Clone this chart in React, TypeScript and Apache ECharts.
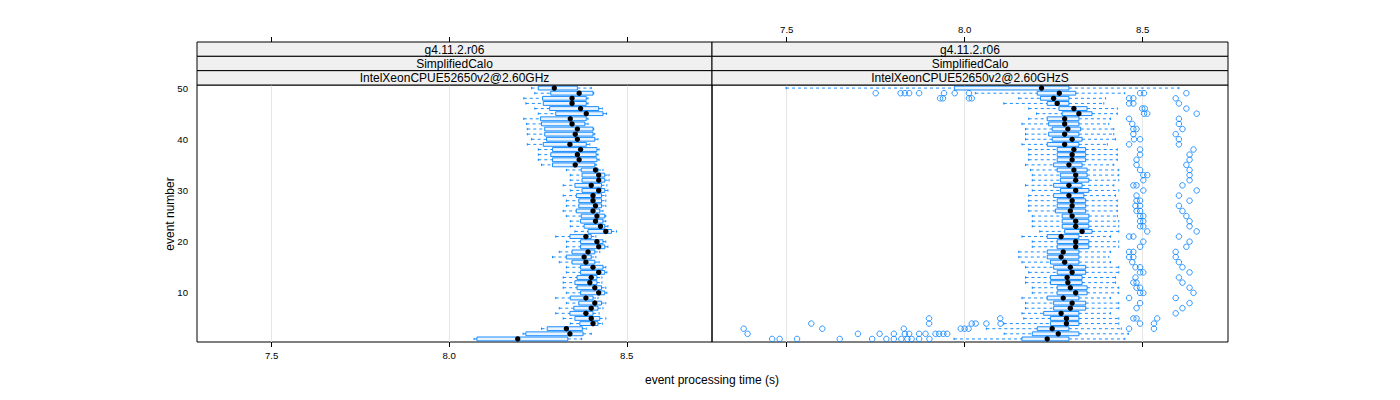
import React, { useEffect, useRef } from "react";
import * as echarts from "echarts";

// ---------- data ----------
const xTicks = [7.5, 8.0, 8.5];
const xTickLabels = ["7.5", "8.0", "8.5"];
const yTicks = [10, 20, 30, 40, 50];
const yTickLabels = ["10", "20", "30", "40", "50"];
const stripRows = ["g4.11.2.r06", "SimplifiedCalo"];
const panelNames = ["IntelXeonCPUE52650v2@2.60GHz", "IntelXeonCPUE52650v2@2.60GHzS"];
const xTitle = "event processing time (s)";
const yTitle = "event number";

// left panel, event 1 .. 50
const leftLow = [8.070, 8.208, 8.260, 8.341, 8.321, 8.300, 8.310, 8.330, 8.300, 8.330,
  8.321, 8.321, 8.321, 8.330, 8.330, 8.310, 8.291, 8.310, 8.330, 8.330,
  8.300, 8.354, 8.341, 8.341, 8.330, 8.321, 8.330, 8.330, 8.321, 8.341,
  8.321, 8.341, 8.341, 8.330, 8.260, 8.251, 8.251, 8.251, 8.220, 8.232,
  8.220, 8.220, 8.218, 8.210, 8.251, 8.241, 8.216, 8.210, 8.241, 8.232];
const leftQ1 = [8.078, 8.216, 8.276, 8.368, 8.354, 8.340, 8.351, 8.365, 8.341, 8.370,
  8.360, 8.354, 8.360, 8.370, 8.370, 8.346, 8.330, 8.346, 8.370, 8.370,
  8.340, 8.391, 8.380, 8.370, 8.372, 8.358, 8.365, 8.365, 8.358, 8.374,
  8.354, 8.374, 8.374, 8.372, 8.291, 8.291, 8.286, 8.291, 8.265, 8.274,
  8.269, 8.269, 8.260, 8.257, 8.300, 8.283, 8.265, 8.263, 8.286, 8.251];
const leftMed = [8.193, 8.340, 8.330, 8.405, 8.400, 8.385, 8.400, 8.410, 8.385, 8.421,
  8.410, 8.396, 8.400, 8.421, 8.405, 8.385, 8.380, 8.391, 8.421, 8.416,
  8.385, 8.441, 8.426, 8.412, 8.416, 8.405, 8.412, 8.405, 8.405, 8.421,
  8.400, 8.421, 8.421, 8.412, 8.355, 8.366, 8.361, 8.370, 8.340, 8.361,
  8.355, 8.361, 8.346, 8.341, 8.386, 8.370, 8.346, 8.346, 8.366, 8.296];
const leftQ3 = [8.334, 8.377, 8.375, 8.419, 8.424, 8.405, 8.419, 8.429, 8.405, 8.438,
  8.429, 8.416, 8.416, 8.438, 8.433, 8.410, 8.400, 8.410, 8.438, 8.433,
  8.400, 8.457, 8.438, 8.433, 8.438, 8.424, 8.429, 8.429, 8.429, 8.438,
  8.429, 8.438, 8.438, 8.419, 8.410, 8.416, 8.414, 8.416, 8.386, 8.410,
  8.405, 8.405, 8.382, 8.386, 8.433, 8.421, 8.386, 8.386, 8.405, 8.361];
const leftHigh = [8.373, 8.400, 8.386, 8.431, 8.441, 8.422, 8.433, 8.441, 8.419, 8.444,
  8.441, 8.430, 8.430, 8.444, 8.441, 8.422, 8.413, 8.424, 8.447, 8.441,
  8.413, 8.471, 8.447, 8.441, 8.441, 8.433, 8.441, 8.441, 8.441, 8.447,
  8.444, 8.450, 8.450, 8.433, 8.414, 8.422, 8.419, 8.422, 8.396, 8.419,
  8.410, 8.407, 8.391, 8.391, 8.443, 8.431, 8.391, 8.391, 8.407, 8.400];

// right panel, event 1 .. 50
const rightLow = [7.970, 8.111, 8.061, 8.110, 8.166, 8.161, 8.171, 8.171, 8.161, 8.190,
  8.190, 8.171, 8.171, 8.180, 8.171, 8.161, 8.152, 8.152, 8.190, 8.190,
  8.161, 8.211, 8.190, 8.190, 8.190, 8.180, 8.180, 8.180, 8.180, 8.190,
  8.171, 8.190, 8.190, 8.185, 8.171, 8.180, 8.180, 8.180, 8.161, 8.171,
  8.171, 8.171, 8.161, 8.180, 8.202, 8.180, 8.110, 8.152, 8.030, 7.498];
const rightQ1 = [8.161, 8.190, 8.204, 8.241, 8.241, 8.222, 8.250, 8.250, 8.232, 8.260,
  8.260, 8.241, 8.241, 8.260, 8.250, 8.241, 8.232, 8.232, 8.260, 8.260,
  8.232, 8.281, 8.274, 8.274, 8.274, 8.255, 8.260, 8.260, 8.250, 8.269,
  8.250, 8.269, 8.269, 8.260, 8.250, 8.260, 8.260, 8.260, 8.232, 8.246,
  8.236, 8.246, 8.236, 8.232, 8.274, 8.265, 8.232, 8.213, 8.204, 7.971];
const rightMed = [8.232, 8.263, 8.246, 8.286, 8.286, 8.271, 8.297, 8.302, 8.277, 8.312,
  8.297, 8.290, 8.288, 8.302, 8.297, 8.281, 8.271, 8.277, 8.312, 8.312,
  8.271, 8.330, 8.312, 8.312, 8.302, 8.297, 8.302, 8.302, 8.293, 8.312,
  8.293, 8.312, 8.312, 8.307, 8.293, 8.302, 8.302, 8.307, 8.281, 8.302,
  8.281, 8.290, 8.281, 8.281, 8.321, 8.307, 8.260, 8.250, 8.266, 8.216];
const rightQ3 = [8.293, 8.321, 8.293, 8.321, 8.321, 8.321, 8.340, 8.340, 8.321, 8.344,
  8.344, 8.330, 8.330, 8.340, 8.340, 8.321, 8.321, 8.321, 8.349, 8.349,
  8.321, 8.358, 8.349, 8.349, 8.349, 8.340, 8.340, 8.340, 8.335, 8.349,
  8.330, 8.349, 8.344, 8.344, 8.330, 8.340, 8.340, 8.340, 8.321, 8.330,
  8.321, 8.326, 8.321, 8.321, 8.358, 8.344, 8.293, 8.293, 8.312, 8.293];
const rightHigh = [8.450, 8.460, 8.440, 8.433, 8.433, 8.410, 8.433, 8.433, 8.410, 8.433,
  8.433, 8.424, 8.424, 8.433, 8.433, 8.410, 8.405, 8.410, 8.433, 8.433,
  8.410, 8.433, 8.433, 8.433, 8.429, 8.429, 8.429, 8.429, 8.424, 8.433,
  8.419, 8.433, 8.433, 8.433, 8.419, 8.429, 8.429, 8.429, 8.401, 8.424,
  8.419, 8.419, 8.405, 8.410, 8.429, 8.429, 8.391, 8.396, 8.450, 8.602];

// right panel outliers: [event, times]
const rightOutliers: [number, number[]][] = [
  [1, [7.459, 7.480, 7.529, 7.649, 7.740, 7.780, 7.801, 7.822, 7.839, 7.851, 7.872, 7.901]],
  [2, [7.390, 7.700, 7.761, 7.801, 7.832, 7.844, 7.872, 7.890, 7.918, 7.928, 7.940, 7.951]],
  [3, [7.379, 7.600, 7.829, 7.989, 8.000, 8.011, 8.462, 8.532]],
  [4, [7.569, 7.900, 8.020, 8.031, 8.061, 8.101, 8.493, 8.532]],
  [5, [7.900, 8.100, 8.474, 8.483, 8.541]],
  [6, [8.593]],
  [7, [8.483, 8.612]],
  [8, [8.493, 8.632]],
  [9, [8.462, 8.593]],
  [10, [8.493, 8.502, 8.643]],
  [11, [8.483, 8.493, 8.632]],
  [12, [8.474, 8.483, 8.612]],
  [13, [8.480, 8.602]],
  [14, [8.493, 8.502, 8.632]],
  [15, [8.480, 8.493, 8.612]],
  [16, [8.471, 8.602]],
  [17, [8.462, 8.474, 8.593]],
  [18, [8.462, 8.474, 8.593]],
  [19, [8.493, 8.623]],
  [20, [8.502, 8.632]],
  [21, [8.462, 8.474, 8.602]],
  [22, [8.513, 8.652]],
  [23, [8.493, 8.502, 8.632]],
  [24, [8.493, 8.502, 8.632]],
  [25, [8.493, 8.502, 8.623]],
  [26, [8.483, 8.493, 8.612]],
  [27, [8.480, 8.493, 8.602]],
  [28, [8.483, 8.493, 8.632]],
  [29, [8.483, 8.602]],
  [30, [8.502, 8.652]],
  [31, [8.474, 8.483, 8.612]],
  [32, [8.502, 8.632]],
  [33, [8.502, 8.513, 8.632]],
  [34, [8.493, 8.632]],
  [35, [8.483, 8.623]],
  [36, [8.483, 8.632]],
  [37, [8.493, 8.632]],
  [38, [8.493, 8.643]],
  [39, [8.462, 8.602]],
  [40, [8.476, 8.493, 8.602]],
  [41, [8.474, 8.593]],
  [42, [8.474, 8.483, 8.612]],
  [43, [8.471, 8.602]],
  [44, [8.462, 8.602]],
  [45, [8.504, 8.513, 8.652]],
  [46, [8.499, 8.506, 8.623]],
  [47, [8.462, 8.474, 8.602]],
  [48, [7.931, 7.939, 8.012, 8.020, 8.462, 8.474, 8.593]],
  [49, [7.750, 7.820, 7.832, 7.844, 7.872, 7.942, 7.972, 8.012, 8.493, 8.504, 8.623]],
];

// ---------- layout / style ----------
const FONT = "'Liberation Sans', Arial, Helvetica, sans-serif";
const BLUE = "#0080ff";
const X_MIN = 7.29;
const X_MAX = 8.74;
const Y_MIN = 0.4;
const Y_MAX = 50.6;
const PANELS = [
  { left: 197, width: 515 },
  { left: 712, width: 516 },
];
const GRID_TOP = 85;
const GRID_H = 257;
const STRIP_TOP = 42;
const STRIP_H = (GRID_TOP - STRIP_TOP) / 3;

export default function App() {
  const ref = useRef<HTMLDivElement>(null);

  useEffect(() => {
    if (!ref.current) return;
    const chart = echarts.init(ref.current, null, { renderer: "svg" });

    const rows = (lo: number[], q1: number[], md: number[], q3: number[], hi: number[]) =>
      lo.map((v, i) => [i + 1, v, q1[i], md[i], q3[i], hi[i]]);

    const renderBox = (_params: any, api: any) => {
      const ev = api.value(0);
      const pLo = api.coord([api.value(1), ev]);
      const pQ1 = api.coord([api.value(2), ev]);
      const pMd = api.coord([api.value(3), ev]);
      const pQ3 = api.coord([api.value(4), ev]);
      const pHi = api.coord([api.value(5), ev]);
      const h = api.size([0, 0.75])[1];
      const y = pMd[1];
      const dash = { stroke: BLUE, lineWidth: 0.9, lineDash: [3, 3] };
      const solid = { stroke: BLUE, lineWidth: 0.9 };
      return {
        type: "group",
        children: [
          { type: "line", shape: { x1: pLo[0], y1: y, x2: pQ1[0], y2: y }, style: dash },
          { type: "line", shape: { x1: pQ3[0], y1: y, x2: pHi[0], y2: y }, style: dash },
          { type: "line", shape: { x1: pLo[0], y1: y - h * 0.3, x2: pLo[0], y2: y + h * 0.3 }, style: solid },
          { type: "line", shape: { x1: pHi[0], y1: y - h * 0.3, x2: pHi[0], y2: y + h * 0.3 }, style: solid },
          {
            type: "rect",
            shape: { x: pQ1[0], y: y - h / 2, width: pQ3[0] - pQ1[0], height: h },
            style: { fill: "#eaf4ff", stroke: BLUE, lineWidth: 0.9 },
          },
          { type: "circle", shape: { cx: pMd[0], cy: y, r: 2.7 }, style: { fill: "#000" } },
        ],
      };
    };

    const outlierData: number[][] = [];
    rightOutliers.forEach(([ev, times]) => times.forEach((t) => outlierData.push([t, ev])));

    const xAxisDef = (gridIndex: number, position: string, showLabel: boolean, offset: number) => ({
      gridIndex,
      type: "value",
      min: X_MIN,
      max: X_MAX,
      position,
      offset,
      axisLine: { show: false },
      axisTick: { show: true, inside: false, length: 5, lineStyle: { color: "#000", width: 1 }, customValues: xTicks },
      axisLabel: {
        show: showLabel,
        customValues: xTicks,
        formatter: (v: number) => xTickLabels[xTicks.findIndex((t) => Math.abs(t - v) < 1e-6)] ?? "",
        fontSize: 9.6,
        fontFamily: FONT,
        color: "#000",
        margin: 8,
      },
      splitLine: { show: position === "bottom", lineStyle: { color: "#e6e6e6", width: 1 } },
    });

    const yAxisDef = (gridIndex: number, showLabel: boolean) => ({
      gridIndex,
      type: "value",
      min: Y_MIN,
      max: Y_MAX,
      axisLine: { show: false },
      axisTick: { show: false },
      splitLine: { show: false },
      axisLabel: {
        show: showLabel,
        customValues: yTicks,
        formatter: (v: number) => yTickLabels[yTicks.indexOf(Math.round(v))] ?? "",
        fontSize: 9.6,
        fontFamily: FONT,
        color: "#000",
        margin: 9,
      },
    });

    const graphics: any[] = [];
    PANELS.forEach((p, pi) => {
      const labels = [...stripRows, panelNames[pi]];
      labels.forEach((txt, si) => {
        graphics.push({
          type: "rect",
          shape: { x: p.left, y: STRIP_TOP + si * STRIP_H, width: p.width, height: STRIP_H },
          style: { fill: "#f0f0f0", stroke: "#000", lineWidth: 1 },
          z: 10,
        });
        graphics.push({
          type: "text",
          x: p.left + p.width / 2,
          y: STRIP_TOP + si * STRIP_H + STRIP_H / 2 + 0.5,
          style: { text: txt, fontSize: 12, fontFamily: FONT, fill: "#000", align: "center", verticalAlign: "middle" },
          z: 11,
        });
      });
    });
    graphics.push({
      type: "text",
      x: 712,
      y: 380,
      style: { text: xTitle, fontSize: 12, fontFamily: FONT, fill: "#000", align: "center", verticalAlign: "middle" },
    });
    graphics.push({
      type: "text",
      x: 170,
      y: 214,
      rotation: Math.PI / 2,
      style: { text: yTitle, fontSize: 12, fontFamily: FONT, fill: "#000", align: "center", verticalAlign: "middle" },
    });

    chart.setOption({
      animation: false,
      backgroundColor: "#fff",
      grid: PANELS.map((p) => ({
        left: p.left,
        top: GRID_TOP,
        width: p.width,
        height: GRID_H,
        show: true,
        borderColor: "#000",
        borderWidth: 1,
        backgroundColor: "transparent",
      })),
      xAxis: [
        xAxisDef(0, "bottom", true, 0),
        xAxisDef(0, "top", false, GRID_TOP - STRIP_TOP),
        xAxisDef(1, "bottom", false, 0),
        xAxisDef(1, "top", true, GRID_TOP - STRIP_TOP),
      ],
      yAxis: [yAxisDef(0, true), yAxisDef(1, false)],
      graphic: graphics,
      series: [
        {
          type: "custom",
          xAxisIndex: 0,
          yAxisIndex: 0,
          renderItem: renderBox,
          data: rows(leftLow, leftQ1, leftMed, leftQ3, leftHigh),
          encode: { x: [1, 2, 3, 4, 5], y: 0 },
          z: 3,
          silent: true,
        },
        {
          type: "custom",
          xAxisIndex: 2,
          yAxisIndex: 1,
          renderItem: renderBox,
          data: rows(rightLow, rightQ1, rightMed, rightQ3, rightHigh),
          encode: { x: [1, 2, 3, 4, 5], y: 0 },
          z: 3,
          silent: true,
        },
        {
          type: "scatter",
          xAxisIndex: 2,
          yAxisIndex: 1,
          data: outlierData,
          symbol: "circle",
          symbolSize: 5.5,
          itemStyle: { color: "transparent", borderColor: BLUE, borderWidth: 1 },
          z: 2,
          silent: true,
        },
      ],
    });

    return () => chart.dispose();
  }, []);

  return (
    <div
      ref={ref}
      style={{ position: "absolute", left: 0, top: 0, width: 1400, height: 400, background: "#fff" }}
    />
  );
}
